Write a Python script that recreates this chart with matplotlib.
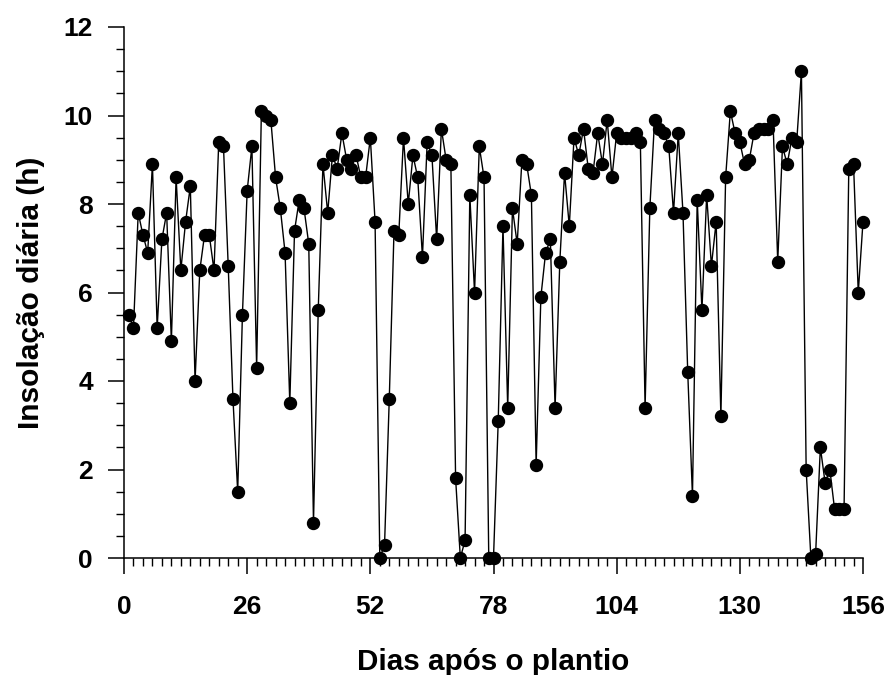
import matplotlib.pyplot as plt
from matplotlib.ticker import MultipleLocator

plt.rcParams['font.family'] = ['Liberation Sans', 'DejaVu Sans']

dias = list(range(1, 157))

insolacao = [
    5.5, 5.2, 7.8, 7.3, 6.9, 8.9, 5.2, 7.2, 7.8, 4.9,
    8.6, 6.5, 7.6, 8.4, 4.0, 6.5, 7.3, 7.3, 6.5, 9.4,
    9.3, 6.6, 3.6, 1.5, 5.5, 8.3, 9.3, 4.3, 10.1, 10.0,
    9.9, 8.6, 7.9, 6.9, 3.5, 7.4, 8.1, 7.9, 7.1, 0.8,
    5.6, 8.9, 7.8, 9.1, 8.8, 9.6, 9.0, 8.8, 9.1, 8.6,
    8.6, 9.5, 7.6, 0.0, 0.3, 3.6, 7.4, 7.3, 9.5, 8.0,
    9.1, 8.6, 6.8, 9.4, 9.1, 7.2, 9.7, 9.0, 8.9, 1.8,
    0.0, 0.4, 8.2, 6.0, 9.3, 8.6, 0.0, 0.0, 3.1, 7.5,
    3.4, 7.9, 7.1, 9.0, 8.9, 8.2, 2.1, 5.9, 6.9, 7.2,
    3.4, 6.7, 8.7, 7.5, 9.5, 9.1, 9.7, 8.8, 8.7, 9.6,
    8.9, 9.9, 8.6, 9.6, 9.5, 9.5, 9.5, 9.6, 9.4, 3.4,
    7.9, 9.9, 9.7, 9.6, 9.3, 7.8, 9.6, 7.8, 4.2, 1.4,
    8.1, 5.6, 8.2, 6.6, 7.6, 3.2, 8.6, 10.1, 9.6, 9.4,
    8.9, 9.0, 9.6, 9.7, 9.7, 9.7, 9.9, 6.7, 9.3, 8.9,
    9.5, 9.4, 11.0, 2.0, 0.0, 0.1, 2.5, 1.7, 2.0, 1.1,
    1.1, 1.1, 8.8, 8.9, 6.0, 7.6,
]

xticks = [0, 26, 52, 78, 104, 130, 156]
yticks = [0, 2, 4, 6, 8, 10, 12]

fig = plt.figure(figsize=(8.92, 6.75), dpi=100)
ax = fig.add_axes([124 / 892, 1 - 558 / 675, (863 - 124) / 892, (558 - 27) / 675])

ax.plot(dias, insolacao, color='black', linewidth=1.0, marker='o',
        markersize=8.6, markerfacecolor='black', markeredgecolor='black',
        clip_on=False, zorder=3)

ax.set_xlim(0, 156)
ax.set_ylim(0, 12)
ax.set_xticks(xticks)
ax.set_yticks(yticks)
ax.xaxis.set_minor_locator(MultipleLocator(2))
ax.yaxis.set_minor_locator(MultipleLocator(0.5))

for s in ['top', 'right']:
    ax.spines[s].set_visible(False)
for s in ['left', 'bottom']:
    ax.spines[s].set_linewidth(1.1)

ax.tick_params(axis='both', which='major', direction='out', length=11.5,
               width=1.1, labelsize=19)
ax.tick_params(axis='both', which='minor', direction='out', length=5.8,
               width=1.0)
ax.tick_params(axis='x', which='major', pad=15)
ax.tick_params(axis='y', which='major', pad=11)
for lab in ax.get_xticklabels() + ax.get_yticklabels():
    lab.set_fontweight('bold')

ax.set_xlabel('Dias após o plantio', fontsize=21.3, fontweight='bold', labelpad=21)
ax.set_ylabel('Insolação diária (h)', fontsize=21.5, fontweight='bold', labelpad=13)

plt.savefig('out.png', dpi=100)
